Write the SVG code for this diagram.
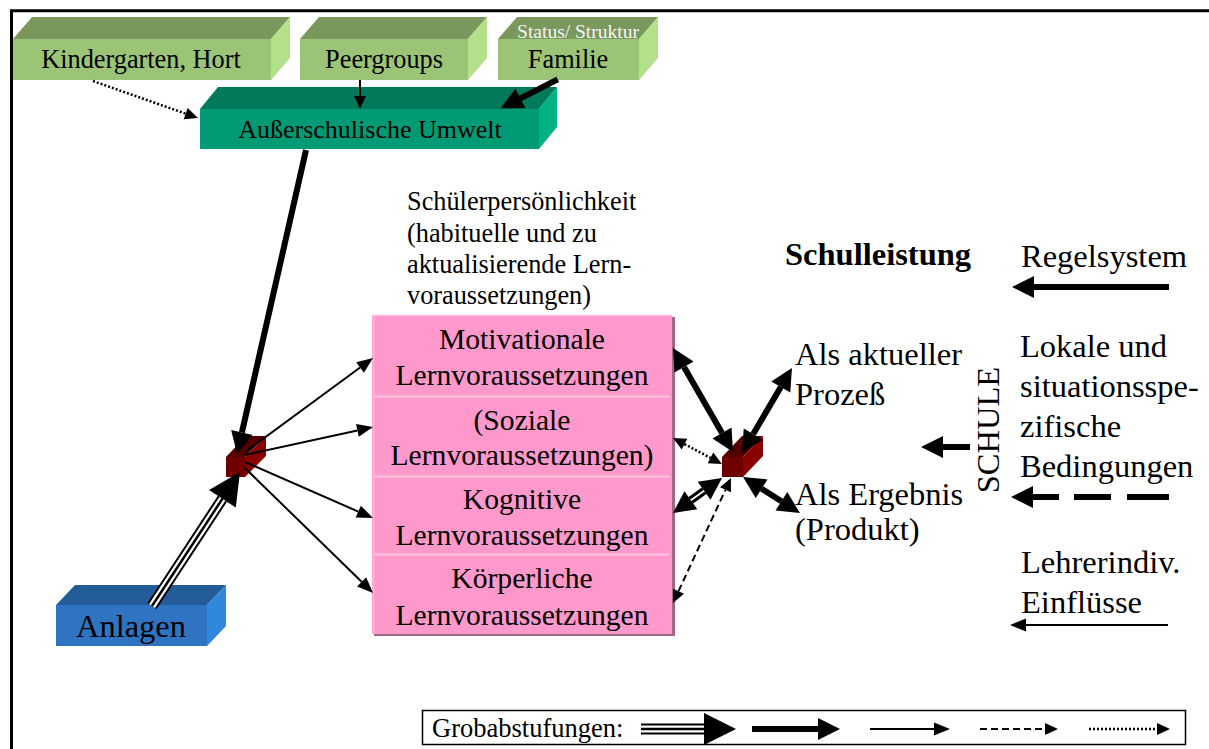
<svg xmlns="http://www.w3.org/2000/svg" width="1209" height="749" viewBox="0 0 1209 749">
<style>
.t{font-family:"Liberation Serif","Times New Roman",serif;fill:#000}
.thick{stroke:#000;stroke-width:6;fill:none}
.thin{stroke:#000;stroke-width:2;fill:none}
.dash{stroke:#000;stroke-width:2;stroke-dasharray:7 4;fill:none}
.dot{stroke:#000;stroke-width:2.5;stroke-dasharray:2 2;fill:none}
.gF{fill:#9cc476}.gT{fill:#7a985c}.gS{fill:#b4e08a}
.tF{fill:#009a74}.tT{fill:#007a5a}.tS{fill:#00b284}
.bF{fill:#2f74c2}.bT{fill:#245c99}.bS{fill:#2f88dd}
.cF{fill:#700000}.cT{fill:#550000}.cS{fill:#8a0000}
</style>
<defs>
<marker id="hB" markerUnits="userSpaceOnUse" viewBox="0 -11 22 22" markerWidth="22" markerHeight="22" refX="0" refY="0" orient="auto-start-reverse" overflow="visible"><path d="M0,-11L22,0L0,11z" fill="#000"/></marker>
<marker id="hX" markerUnits="userSpaceOnUse" viewBox="0 -16 32 32" markerWidth="32" markerHeight="32" refX="0" refY="0" orient="auto-start-reverse" overflow="visible"><path d="M0,-16L32,0L0,16z" fill="#000"/></marker>
<marker id="hM" markerUnits="userSpaceOnUse" viewBox="0 -6.5 16 13" markerWidth="16" markerHeight="13" refX="0" refY="0" orient="auto-start-reverse" overflow="visible"><path d="M0,-6.5L16,0L0,6.5z" fill="#000"/></marker>
<marker id="hS" markerUnits="userSpaceOnUse" viewBox="0 -6 13 12" markerWidth="13" markerHeight="12" refX="0" refY="0" orient="auto-start-reverse" overflow="visible"><path d="M0,-6L13,0L0,6z" fill="#000"/></marker>
</defs>
<rect width="1209" height="749" fill="#fff"/>
<path d="M11.5,749V10.7H1209" fill="none" stroke="#000" stroke-width="3"/>

<g id="kindergarten">
<polygon class="gT" points="13,39 32,17 290,17 271,39"/>
<polygon class="gS" points="271,39 290,17 290,58 271,80"/>
<rect class="gF" x="13" y="39" width="258" height="41"/>
<text class="t" x="141" y="68" font-size="26.3" text-anchor="middle">Kindergarten, Hort</text>
</g>
<g id="peergroups">
<polygon class="gT" points="300,39 319,17 487,17 468,39"/>
<polygon class="gS" points="468,39 487,17 487,58 468,80"/>
<rect class="gF" x="300" y="39" width="168" height="41"/>
<text class="t" x="384" y="68" font-size="26.3" text-anchor="middle">Peergroups</text>
</g>
<g id="familie">
<polygon class="gT" points="498,39 517,17 658,17 639,39"/>
<polygon class="gS" points="639,39 658,17 658,58 639,80"/>
<rect class="gF" x="498" y="39" width="141" height="41"/>
<text class="t" x="578" y="38" font-size="19.5" text-anchor="middle" style="fill:#f6f6f6">Status/ Struktur</text>
<text class="t" x="568" y="68" font-size="26.3" text-anchor="middle">Familie</text>
</g>
<g id="umwelt">
<polygon class="tT" points="200,109 218,87 557,87 539,109"/>
<polygon class="tS" points="539,109 557,87 557,127 539,149"/>
<rect class="tF" x="200" y="109" width="339" height="40"/>
<text class="t" x="370" y="138" font-size="26" text-anchor="middle">Außerschulische Umwelt</text>
</g>
<g id="anlagen">
<polygon class="bT" points="56,605 75,585 226,585 207,605"/>
<polygon class="bS" points="207,605 226,585 226,626 207,646"/>
<rect class="bF" x="56" y="605" width="151" height="41"/>
<text class="t" x="131" y="637" font-size="32.5" text-anchor="middle">Anlagen</text>
</g>
<g id="knoten-links">
<polygon class="cT" points="226,457 246,436 266,436 245,457"/>
<polygon class="cS" points="245,457 266,436 266,456 245,477"/>
<rect class="cF" x="226" y="457" width="19" height="20"/>
</g>
<g id="knoten-rechts">
<polygon class="cT" points="722,457 742,436 763,436 743,457"/>
<polygon class="cS" points="743,457 763,436 763,456 743,477"/>
<rect class="cF" x="722" y="457" width="21" height="20"/>
</g>
<g id="schuelerpersoenlichkeit">
<text class="t" font-size="26.3"><tspan x="407" y="210">Schülerpersönlichkeit</tspan><tspan x="407" y="242">(habituelle und zu</tspan><tspan x="407" y="273">aktualisierende Lern-</tspan><tspan x="407" y="304">voraussetzungen)</tspan></text>
</g>
<g id="lernvoraussetzungen">
<rect x="374" y="317" width="301" height="319" fill="#a4658a"/>
<rect x="372" y="315" width="300" height="319" fill="#ff99cc"/>
<path d="M373.5,315V634M372,315.5H672" stroke="#ffbcdd" stroke-width="1.5"/>
<path d="M374,396.5H670M374,476.5H670M374,554.5H670" stroke="#ffc4e2" stroke-width="2"/>
<g class="t" font-size="29.6" text-anchor="middle">
<text x="522" y="349">Motivationale</text>
<text x="522" y="385">Lernvoraussetzungen</text>
<text x="522" y="430">(Soziale</text>
<text x="522" y="465">Lernvoraussetzungen)</text>
<text x="522" y="509">Kognitive</text>
<text x="522" y="545">Lernvoraussetzungen</text>
<text x="522" y="588">Körperliche</text>
<text x="522" y="625">Lernvoraussetzungen</text>
</g>
</g>
<g id="schulleistung">
<text class="t" x="785" y="265" font-size="32.5" font-weight="bold">Schulleistung</text>
<text class="t" x="795" y="365" font-size="32.5">Als aktueller</text>
<text class="t" x="795" y="405" font-size="32.5">Prozeß</text>
<text class="t" x="795" y="505" font-size="32.5">Als Ergebnis</text>
<text class="t" x="795" y="540" font-size="32.5">(Produkt)</text>
</g>
<g id="schule">
<text class="t" transform="translate(999,430) rotate(-90)" font-size="32.5" text-anchor="middle">SCHULE</text>
<text class="t" x="1021" y="267" font-size="32.5">Regelsystem</text>
<text class="t" font-size="32.5"><tspan x="1020" y="357">Lokale und</tspan><tspan x="1020" y="397">situationsspe-</tspan><tspan x="1020" y="437">zifische</tspan><tspan x="1020" y="477">Bedingungen</tspan></text>
<text class="t" font-size="32.5"><tspan x="1021" y="573">Lehrerindiv.</tspan><tspan x="1021" y="613">Einflüsse</tspan></text>
</g>

<g id="connectors">
<path class="dot" d="M93,81L185.7,113.7" marker-end="url(#hS)"/>
<path class="thin" d="M360,80V96" stroke-width="1.5" marker-end="url(#hS)"/>
<path class="thick" d="M557.7,79.3L520.4,98.3" marker-end="url(#hB)"/>
<path class="thick" d="M306,150L241.9,432.5" stroke-width="7" marker-end="url(#hB)"/>
<path d="M152,606L222.4,498.8" stroke="#000" stroke-width="11" fill="none" marker-end="url(#hX)"/>
<path d="M152,606L222.4,498.8" stroke="#fff" stroke-width="7" fill="none"/>
<path d="M152,606L222.4,498.8" stroke="#000" stroke-width="2.5" fill="none"/>
<path class="thin" d="M245,452L360.1,367.5" marker-end="url(#hM)"/>
<path class="thin" d="M245,455L357.4,430.4" marker-end="url(#hM)"/>
<path class="thin" d="M245,462L358.3,511.6" marker-end="url(#hM)"/>
<path class="thin" d="M245,468L361.6,581.8" marker-end="url(#hM)"/>
<path class="thick" d="M684,367.1L722,432.9" stroke-width="5" marker-start="url(#hB)" marker-end="url(#hB)"/>
<path class="thick" d="M753.2,434L780.8,387" stroke-width="5" marker-start="url(#hB)" marker-end="url(#hB)"/>
<path class="dot" d="M684.5,444.1L710.5,457.9" stroke-width="3" marker-start="url(#hS)" marker-end="url(#hS)"/>
<path d="M690.9,500.2L704.1,490.8" stroke="#000" stroke-width="8" fill="none" marker-start="url(#hB)" marker-end="url(#hB)"/>
<path d="M690.9,500.2L704.1,490.8" stroke="#fff" stroke-width="2" fill="none"/>
<path class="dash" d="M678.5,591.2L725.5,489.8" stroke-dasharray="9 4" marker-start="url(#hS)" marker-end="url(#hS)"/>
<path class="thick" d="M761.6,488.7L781.4,501.3" stroke-width="5" marker-start="url(#hB)" marker-end="url(#hB)"/>
<path class="thick" d="M1169,287H1034" marker-end="url(#hB)"/>
<path class="thick" d="M970,447H943" marker-end="url(#hB)"/>
<path class="thick" d="M1169,497H1127M1111,497H1074M1059,497H1033" marker-end="url(#hB)"/>
<path class="thin" d="M1168,625H1026" stroke-width="2.5" marker-end="url(#hM)"/>
</g>

<g id="legende">
<rect x="422.5" y="710.5" width="763" height="34" fill="none" stroke="#000" stroke-width="1.5"/>
<text class="t" x="432" y="737" font-size="26.5">Grobabstufungen:</text>
<path d="M641,729H704" stroke="#000" stroke-width="11" fill="none" marker-end="url(#hX)"/>
<path d="M641,729H704" stroke="#fff" stroke-width="7" fill="none"/>
<path d="M641,729H704" stroke="#000" stroke-width="2.5" fill="none"/>
<path class="thick" d="M752,729H818" marker-end="url(#hB)"/>
<path class="thin" d="M870,729H934" marker-end="url(#hM)"/>
<path class="dash" d="M980,729H1045" marker-end="url(#hS)"/>
<path class="dot" d="M1089,729H1157" stroke-width="2" marker-end="url(#hS)"/>
</g>
</svg>
